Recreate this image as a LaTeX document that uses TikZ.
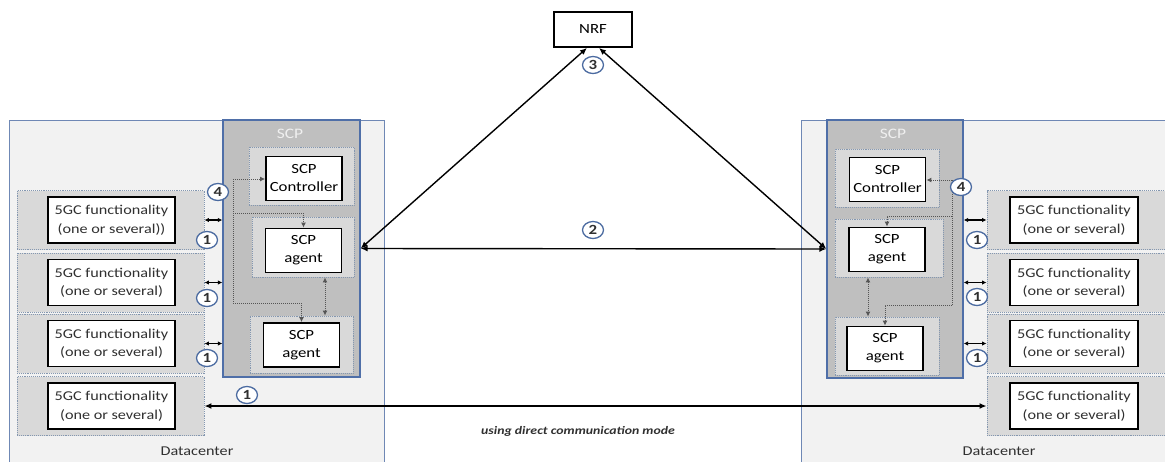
\documentclass[tikz,border=0pt]{standalone}
\usepackage{fontspec}
\setmainfont{Carlito}[FakeStretch=1.2]
\usetikzlibrary{arrows.meta,shapes.geometric,calc}
\definecolor{dcgray}{HTML}{F2F2F2}
\definecolor{dcblue}{HTML}{6F88B5}
\definecolor{scpgray}{HTML}{BFBFBF}
\definecolor{scpblue}{HTML}{4F6FA8}
\definecolor{contgray}{HTML}{D9D9D9}
\definecolor{dotblue}{HTML}{8497B0}
\definecolor{numblue}{HTML}{4A6AA0}
\definecolor{txtdark}{HTML}{303030}
\definecolor{lnk}{HTML}{555555}
\begin{document}
\begin{tikzpicture}[x=1pt,y=-1pt,
  dc/.style={draw=dcblue,fill=dcgray,line width=1pt,inner sep=0},
  scpbox/.style={draw=scpblue,fill=scpgray,line width=1.3pt,inner sep=0},
  cont/.style={draw=dotblue,fill=contgray,densely dotted,line width=0.9pt,inner sep=0},
  gcbox/.style={draw=black,fill=white,line width=1.8pt,align=center,inner sep=0,
    minimum height=46pt,text=txtdark,font=\fontsize{13.5}{18.5}\selectfont},
  wbox/.style={draw=black,fill=white,line width=1.8pt,align=center,inner sep=0,
    minimum width=76pt,minimum height=44pt,font=\fontsize{14}{18}\selectfont},
  num/.style={ellipse,draw=numblue,fill=white,line width=1.3pt,minimum width=21pt,
    minimum height=17pt,inner sep=0,text=txtdark,font=\fontsize{14}{14}\selectfont\bfseries},
  link/.style={black,line width=1.4pt,{Latex[length=7pt,width=6pt]}-{Latex[length=7pt,width=6pt]}},
  short/.style={black,line width=1.3pt,{Latex[length=4.5pt,width=4.5pt]}-{Latex[length=4.5pt,width=4.5pt]}},
  dotl/.style={lnk,densely dotted,line width=1pt},
  dotarr/.style={dotl,-{Latex[length=5pt,width=5pt]}},
  dotdbl/.style={dotl,{Latex[length=5pt,width=5pt]}-{Latex[length=5pt,width=5pt]}},
  lbl/.style={inner sep=0,font=\fontsize{13.5}{16}\selectfont,text=txtdark}
]
\useasboundingbox (0,0) rectangle (1165,461);
\clip (0,0) rectangle (1165,461);

% datacenters
\node[dc,minimum width=375pt,minimum height=345pt] (dcL) at (196.5,292.5) {};
\node[dc,minimum width=380pt,minimum height=345pt] (dcR) at (991,292.5) {};

% 5GC containers
\foreach \i/\y in {1/220,2/282.5,3/343.5,4/406}{
  \node[cont,minimum width=187pt,minimum height=59pt] (cL\i) at (110.5,\y) {};
  \node[cont,minimum width=193pt,minimum height=59pt] (cR\i) at (1083.5,\y) {};
}
\node[gcbox,minimum width=127pt] (gL1) at (111.5,220) {5GC functionality\\(one or several))};
\node[gcbox,minimum width=127pt] (gL2) at (111.5,282.5) {5GC functionality\\(one or several)};
\node[gcbox,minimum width=127pt] (gL3) at (111.5,343.5) {5GC functionality\\(one or several)};
\node[gcbox,minimum width=127pt] (gL4) at (111.5,406) {5GC functionality\\(one or several)};
\node[gcbox,minimum width=128pt] (gR1) at (1074,220) {5GC functionality\\(one or several)};
\node[gcbox,minimum width=128pt] (gR2) at (1074,282.5) {5GC functionality\\(one or several)};
\node[gcbox,minimum width=128pt] (gR3) at (1074,343.5) {5GC functionality\\(one or several)};
\node[gcbox,minimum width=128pt] (gR4) at (1074,406) {5GC functionality\\(one or several)};

% SCP boxes
\node[scpbox,minimum width=137pt,minimum height=257pt] (scpL) at (291.5,248.5) {};
\node[scpbox,minimum width=136pt,minimum height=258pt] (scpR) at (895,249) {};
\node[lbl,font=\fontsize{14.5}{16}\selectfont,text=white!94!black] (scpLt) at (290,134) {SCP};
\node[lbl,font=\fontsize{14.5}{16}\selectfont,text=white!94!black] (scpRt) at (893,134) {SCP};

% left SCP internals
\node[cont,minimum width=105pt,minimum height=58pt] (ccL) at (301.5,176) {};
\node[cont,minimum width=102pt,minimum height=60pt] (caL1) at (303,247) {};
\node[cont,minimum width=103pt,minimum height=57pt] (caL2) at (301.5,344.5) {};
\node[wbox] (ctrlL) at (304,178.5) {SCP\\Controller};
\node[wbox] (agL1) at (303.5,250.5) {SCP\\agent};
\node[wbox] (agL2) at (301.5,345) {SCP\\agent};

% right SCP internals
\node[cont,minimum width=104pt,minimum height=58pt] (ccR) at (887,178) {};
\node[cont,minimum width=108pt,minimum height=58pt] (caR1) at (889,248) {};
\node[cont,minimum width=104pt,minimum height=58pt] (caR2) at (887,346) {};
\node[wbox] (ctrlR) at (887.5,179.5) {SCP\\Controller};
\node[wbox] (agR1) at (887,249.5) {SCP\\agent};
\node[wbox] (agR2) at (885,348.5) {SCP\\agent};

% NRF
\node[draw=black,fill=white,line width=1.8pt,minimum width=78pt,minimum height=35pt,
  inner sep=0,font=\fontsize{14}{16}\selectfont] (nrf) at (593,29.5) {NRF};

% dotted internal connectors (left)
\coordinate (tL1) at (233,179);
\coordinate (tL2) at (233,213);
\coordinate (tL3) at (233,303);
\draw[dotl] (tL1) -- (tL3);
\draw[dotarr] (tL1) -- (tL1 -| ctrlL.west);
\draw[dotarr] (tL2) -| (agL1.north);
\draw[dotarr] (tL3) -| (agL2.north);
\draw[dotdbl] (325,0 |- caL1.south) -- (325,0 |- caL2.north);

% dotted internal connectors (right)
\coordinate (tR1) at (952,180);
\coordinate (tR2) at (952,216);
\coordinate (tR3) at (952,305);
\draw[dotl] (tR1) -- (tR3);
\draw[dotarr] (tR1) -- (tR1 -| ctrlR.east);
\draw[dotarr] (tR2) -| (agR1.north);
\draw[dotarr] (tR3) -| (agR2.north);
\draw[dotdbl] (868,0 |- caR1.south) -- (868,0 |- caR2.north);

% short links 5GC <-> SCP
\foreach \i in {1,2,3}{
  \draw[short] (cL\i.east) -- (cL\i.east -| scpL.west);
  \draw[short] (cR\i.west) -- (cR\i.west -| scpR.east);
}

% main links
\draw[link] ($(nrf.south)+(-6,0)$) -- (scpL.east);
\draw[link] ($(nrf.south)+(6,0)$) -- (scpR.west);
\draw[link] (scpL.east) -- (scpR.west);
\draw[link] (cL4.east) -- (cR4.west);

% labels
\node[lbl] (dtL) at (197,451) {Datacenter};
\node[lbl] (dtR) at (999,451) {Datacenter};
\node[inner sep=0,font=\fontsize{11.5}{14}\selectfont\bfseries\itshape,text=txtdark] (direct) at (578,431) {using direct communication mode};

% numbered circles
\node[num] (n1a) at (207,240) {1};
\node[num] (n1b) at (207,298) {1};
\node[num] (n1c) at (207,358) {1};
\node[num] (n1d) at (247,395) {1};
\node[num] (n1e) at (977,240) {1};
\node[num] (n1f) at (977,297) {1};
\node[num] (n1g) at (977,358) {1};
\node[num] (n4L) at (218,192) {4};
\node[num] (n4R) at (961,187) {4};
\node[num] (n2) at (593,230) {2};
\node[num] (n3) at (593,65) {3};
\end{tikzpicture}
\end{document}
